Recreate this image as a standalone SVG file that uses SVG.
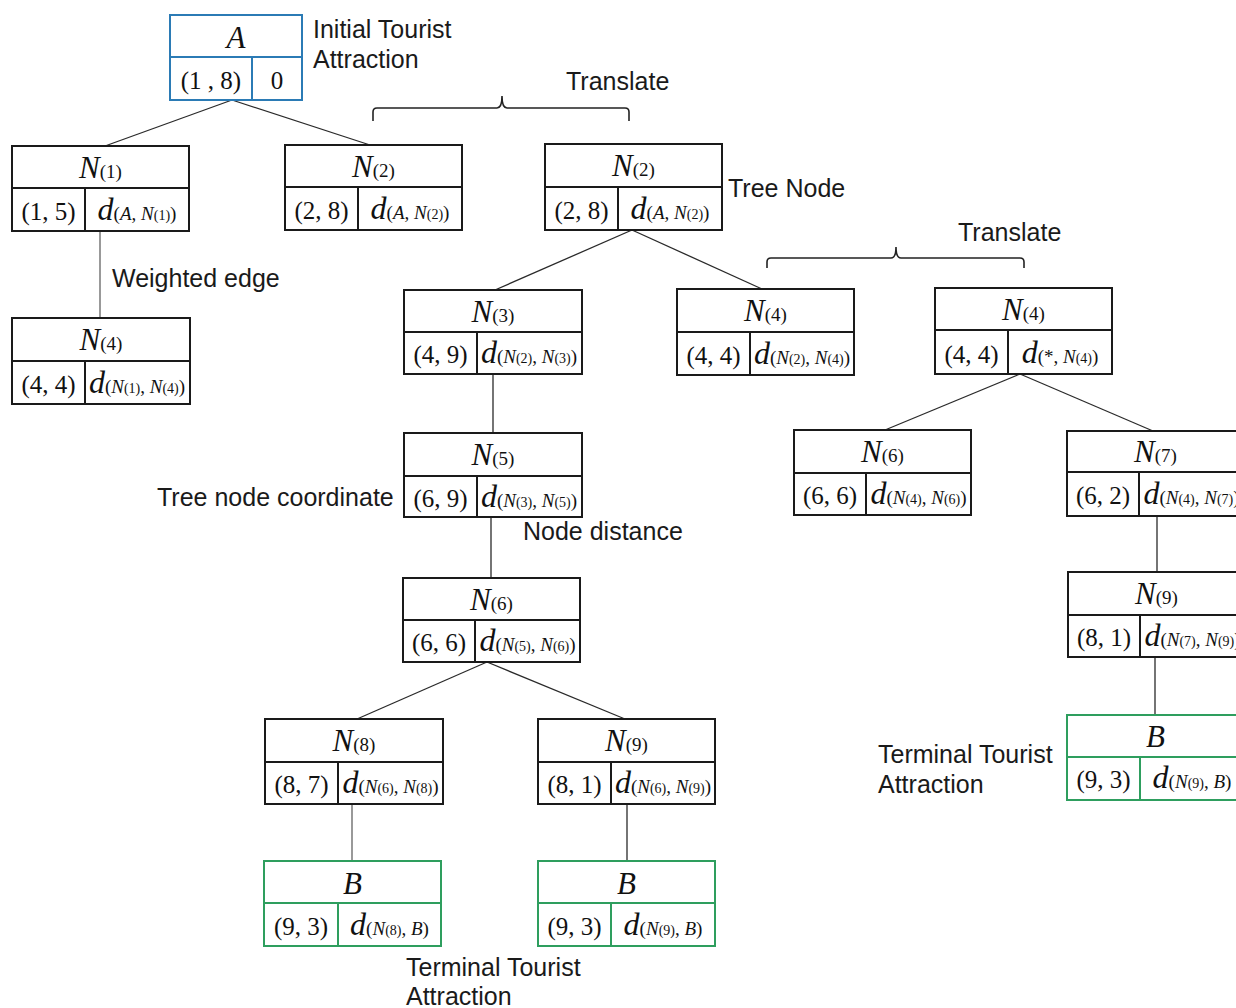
<svg xmlns="http://www.w3.org/2000/svg" width="1236" height="1008" viewBox="0 0 1236 1008">
<style>
.bg{fill:#ffffff}
.box{fill:#ffffff;stroke:#1a1a1a;stroke-width:2}
.blue{stroke:#2b7bb5}
.green{stroke:#2e9e5e}
.div{stroke:#1a1a1a;stroke-width:2}
.divb{stroke:#2b7bb5;stroke-width:2}
.divg{stroke:#2e9e5e;stroke-width:2}
.edge{stroke:#2a2a2a;stroke-width:1.3;fill:none}
.gray{stroke:#777777;stroke-width:1.5}
.brace{stroke:#222;stroke-width:1.6;fill:none}
.lbl{font-family:"Liberation Sans",Arial,sans-serif;font-size:25px;fill:#1a1a1a}
.t{font-family:"Liberation Serif","Times New Roman",serif;fill:#111}
.ttl{font-size:31px;text-anchor:middle}
.crd{font-size:25px;text-anchor:middle}
.dd{font-size:32px;text-anchor:middle}
.i{font-style:italic}
.s1{font-size:19px}
.s2{font-size:14px}
</style>
<rect class="bg" x="0" y="0" width="1236" height="1008"/>

<g id="connectors">
<line class="edge" x1="232" y1="100" x2="105" y2="146"/>
<line class="edge" x1="232" y1="100" x2="370" y2="145"/>
<line class="edge gray" x1="100" y1="231" x2="100" y2="318"/>
<line class="edge" x1="632" y1="230" x2="495" y2="290"/>
<line class="edge" x1="632" y1="230" x2="762" y2="289"/>
<line class="edge" x1="493" y1="374" x2="493" y2="433"/>
<line class="edge" x1="491" y1="517" x2="491" y2="578"/>
<line class="edge" x1="487" y1="662" x2="357" y2="719"/>
<line class="edge" x1="487" y1="662" x2="625" y2="719"/>
<line class="edge gray" x1="352" y1="804" x2="352" y2="861"/>
<line class="edge" x1="627" y1="804" x2="627" y2="861"/>
<line class="edge" x1="1020" y1="374" x2="885" y2="430"/>
<line class="edge" x1="1020" y1="374" x2="1153" y2="431"/>
<line class="edge" x1="1157" y1="516" x2="1157" y2="572"/>
<line class="edge" x1="1155" y1="657" x2="1155" y2="715"/>
<path class="brace" d="M373,121 V112 Q373,108 377,108 H497 Q502,108 502,96 Q502,108 507,108 H625 Q629,108 629,112 V121"/>
<path class="brace" d="M767,268 V262 Q767,258 771,258 H891 Q896,258 896,247 Q896,258 901,258 H1020 Q1024,258 1024,262 V268"/>
</g>

<g id="labels">
<text class="lbl" x="313" y="38">Initial Tourist</text>
<text class="lbl" x="313" y="68">Attraction</text>
<text class="lbl" x="566" y="90">Translate</text>
<text class="lbl" x="728" y="197">Tree Node</text>
<text class="lbl" x="958" y="241">Translate</text>
<text class="lbl" x="112" y="287">Weighted edge</text>
<text class="lbl" x="157" y="506">Tree node coordinate</text>
<text class="lbl" x="523" y="540">Node distance</text>
<text class="lbl" x="878" y="763">Terminal Tourist</text>
<text class="lbl" x="878" y="793">Attraction</text>
<text class="lbl" x="406" y="976">Terminal Tourist</text>
<text class="lbl" x="406" y="1005">Attraction</text>
</g>

<g id="nodeA" transform="translate(170,15)">
<rect class="box blue" x="0" y="0" width="132" height="85"/>
<line class="divb" x1="0" y1="42" x2="132" y2="42"/>
<line class="divb" x1="82" y1="42" x2="82" y2="85"/>
<text class="t ttl i" x="66" y="33">A</text>
<text class="t crd" x="41" y="74">(1 , 8)</text>
<text class="t crd" x="107" y="74">0</text>
</g>

<g id="nodeN1" transform="translate(12,146)">
<rect class="box" x="0" y="0" width="177" height="85"/>
<line class="div" x1="0" y1="42" x2="177" y2="42"/>
<line class="div" x1="73" y1="42" x2="73" y2="85"/>
<text class="t ttl" x="88.5" y="32"><tspan class="i">N</tspan><tspan class="s1">(1)</tspan></text>
<text class="t crd" x="36.5" y="74">(1, 5)</text>
<text class="t dd" x="125" y="74"><tspan class="i">d</tspan><tspan class="s1">(<tspan class="i">A</tspan>, <tspan class="i">N</tspan><tspan class="s2">(1)</tspan>)</tspan></text>
</g>

<g id="nodeN2a" transform="translate(285,145)">
<rect class="box" x="0" y="0" width="177" height="85"/>
<line class="div" x1="0" y1="42" x2="177" y2="42"/>
<line class="div" x1="73" y1="42" x2="73" y2="85"/>
<text class="t ttl" x="88.5" y="32"><tspan class="i">N</tspan><tspan class="s1">(2)</tspan></text>
<text class="t crd" x="36.5" y="74">(2, 8)</text>
<text class="t dd" x="125" y="74"><tspan class="i">d</tspan><tspan class="s1">(<tspan class="i">A</tspan>, <tspan class="i">N</tspan><tspan class="s2">(2)</tspan>)</tspan></text>
</g>

<g id="nodeN2b" transform="translate(545,144)">
<rect class="box" x="0" y="0" width="177" height="86"/>
<line class="div" x1="0" y1="43" x2="177" y2="43"/>
<line class="div" x1="73" y1="43" x2="73" y2="86"/>
<text class="t ttl" x="88.5" y="32"><tspan class="i">N</tspan><tspan class="s1">(2)</tspan></text>
<text class="t crd" x="36.5" y="75">(2, 8)</text>
<text class="t dd" x="125" y="75"><tspan class="i">d</tspan><tspan class="s1">(<tspan class="i">A</tspan>, <tspan class="i">N</tspan><tspan class="s2">(2)</tspan>)</tspan></text>
</g>

<g id="nodeN4a" transform="translate(12,318)">
<rect class="box" x="0" y="0" width="178" height="86"/>
<line class="div" x1="0" y1="43" x2="178" y2="43"/>
<line class="div" x1="73" y1="43" x2="73" y2="86"/>
<text class="t ttl" x="89" y="32"><tspan class="i">N</tspan><tspan class="s1">(4)</tspan></text>
<text class="t crd" x="36.5" y="75">(4, 4)</text>
<text class="t dd" x="125" y="75"><tspan class="i">d</tspan><tspan class="s1">(<tspan class="i">N</tspan><tspan class="s2">(1)</tspan>, <tspan class="i">N</tspan><tspan class="s2">(4)</tspan>)</tspan></text>
</g>

<g id="nodeN3" transform="translate(404,290)">
<rect class="box" x="0" y="0" width="178" height="84"/>
<line class="div" x1="0" y1="42" x2="178" y2="42"/>
<line class="div" x1="73" y1="42" x2="73" y2="84"/>
<text class="t ttl" x="89" y="32"><tspan class="i">N</tspan><tspan class="s1">(3)</tspan></text>
<text class="t crd" x="36.5" y="73">(4, 9)</text>
<text class="t dd" x="125" y="73"><tspan class="i">d</tspan><tspan class="s1">(<tspan class="i">N</tspan><tspan class="s2">(2)</tspan>, <tspan class="i">N</tspan><tspan class="s2">(3)</tspan>)</tspan></text>
</g>

<g id="nodeN4b" transform="translate(677,289)">
<rect class="box" x="0" y="0" width="177" height="86"/>
<line class="div" x1="0" y1="43" x2="177" y2="43"/>
<line class="div" x1="73" y1="43" x2="73" y2="86"/>
<text class="t ttl" x="88.5" y="32"><tspan class="i">N</tspan><tspan class="s1">(4)</tspan></text>
<text class="t crd" x="36.5" y="75">(4, 4)</text>
<text class="t dd" x="125" y="75"><tspan class="i">d</tspan><tspan class="s1">(<tspan class="i">N</tspan><tspan class="s2">(2)</tspan>, <tspan class="i">N</tspan><tspan class="s2">(4)</tspan>)</tspan></text>
</g>

<g id="nodeN4c" transform="translate(935,288)">
<rect class="box" x="0" y="0" width="177" height="86"/>
<line class="div" x1="0" y1="42" x2="177" y2="42"/>
<line class="div" x1="73" y1="42" x2="73" y2="86"/>
<text class="t ttl" x="88.5" y="32"><tspan class="i">N</tspan><tspan class="s1">(4)</tspan></text>
<text class="t crd" x="36.5" y="75">(4, 4)</text>
<text class="t dd" x="125" y="75"><tspan class="i">d</tspan><tspan class="s1">(*, <tspan class="i">N</tspan><tspan class="s2">(4)</tspan>)</tspan></text>
</g>

<g id="nodeN5" transform="translate(404,433)">
<rect class="box" x="0" y="0" width="178" height="84"/>
<line class="div" x1="0" y1="43" x2="178" y2="43"/>
<line class="div" x1="73" y1="43" x2="73" y2="84"/>
<text class="t ttl" x="89" y="32"><tspan class="i">N</tspan><tspan class="s1">(5)</tspan></text>
<text class="t crd" x="36.5" y="74">(6, 9)</text>
<text class="t dd" x="125" y="74"><tspan class="i">d</tspan><tspan class="s1">(<tspan class="i">N</tspan><tspan class="s2">(3)</tspan>, <tspan class="i">N</tspan><tspan class="s2">(5)</tspan>)</tspan></text>
</g>

<g id="nodeN6a" transform="translate(403,578)">
<rect class="box" x="0" y="0" width="177" height="84"/>
<line class="div" x1="0" y1="42" x2="177" y2="42"/>
<line class="div" x1="72" y1="42" x2="72" y2="84"/>
<text class="t ttl" x="88.5" y="32"><tspan class="i">N</tspan><tspan class="s1">(6)</tspan></text>
<text class="t crd" x="36" y="73">(6, 6)</text>
<text class="t dd" x="124.5" y="73"><tspan class="i">d</tspan><tspan class="s1">(<tspan class="i">N</tspan><tspan class="s2">(5)</tspan>, <tspan class="i">N</tspan><tspan class="s2">(6)</tspan>)</tspan></text>
</g>

<g id="nodeN6b" transform="translate(794,430)">
<rect class="box" x="0" y="0" width="177" height="85"/>
<line class="div" x1="0" y1="43" x2="177" y2="43"/>
<line class="div" x1="72" y1="43" x2="72" y2="85"/>
<text class="t ttl" x="88.5" y="32"><tspan class="i">N</tspan><tspan class="s1">(6)</tspan></text>
<text class="t crd" x="36" y="74">(6, 6)</text>
<text class="t dd" x="124.5" y="74"><tspan class="i">d</tspan><tspan class="s1">(<tspan class="i">N</tspan><tspan class="s2">(4)</tspan>, <tspan class="i">N</tspan><tspan class="s2">(6)</tspan>)</tspan></text>
</g>

<g id="nodeN7" transform="translate(1067,431)">
<rect class="box" x="0" y="0" width="177" height="85"/>
<line class="div" x1="0" y1="41" x2="177" y2="41"/>
<line class="div" x1="72" y1="41" x2="72" y2="85"/>
<text class="t ttl" x="88.5" y="31"><tspan class="i">N</tspan><tspan class="s1">(7)</tspan></text>
<text class="t crd" x="36" y="73">(6, 2)</text>
<text class="t dd" x="124.5" y="73"><tspan class="i">d</tspan><tspan class="s1">(<tspan class="i">N</tspan><tspan class="s2">(4)</tspan>, <tspan class="i">N</tspan><tspan class="s2">(7)</tspan>)</tspan></text>
</g>

<g id="nodeN9b" transform="translate(1068,572)">
<rect class="box" x="0" y="0" width="177" height="85"/>
<line class="div" x1="0" y1="43" x2="177" y2="43"/>
<line class="div" x1="72" y1="43" x2="72" y2="85"/>
<text class="t ttl" x="88.5" y="32"><tspan class="i">N</tspan><tspan class="s1">(9)</tspan></text>
<text class="t crd" x="36" y="74">(8, 1)</text>
<text class="t dd" x="124.5" y="74"><tspan class="i">d</tspan><tspan class="s1">(<tspan class="i">N</tspan><tspan class="s2">(7)</tspan>, <tspan class="i">N</tspan><tspan class="s2">(9)</tspan>)</tspan></text>
</g>

<g id="nodeBb" transform="translate(1067,715)">
<rect class="box green" x="0" y="0" width="177" height="85"/>
<line class="divg" x1="0" y1="42" x2="177" y2="42"/>
<line class="divg" x1="73" y1="42" x2="73" y2="85"/>
<text class="t ttl i" x="88.5" y="32">B</text>
<text class="t crd" x="36.5" y="73">(9, 3)</text>
<text class="t dd" x="125" y="73"><tspan class="i">d</tspan><tspan class="s1">(<tspan class="i">N</tspan><tspan class="s2">(9)</tspan>, <tspan class="i">B</tspan>)</tspan></text>
</g>

<g id="nodeN8" transform="translate(265,719)">
<rect class="box" x="0" y="0" width="178" height="85"/>
<line class="div" x1="0" y1="43" x2="178" y2="43"/>
<line class="div" x1="73" y1="43" x2="73" y2="85"/>
<text class="t ttl" x="89" y="32"><tspan class="i">N</tspan><tspan class="s1">(8)</tspan></text>
<text class="t crd" x="36.5" y="74">(8, 7)</text>
<text class="t dd" x="125.5" y="74"><tspan class="i">d</tspan><tspan class="s1">(<tspan class="i">N</tspan><tspan class="s2">(6)</tspan>, <tspan class="i">N</tspan><tspan class="s2">(8)</tspan>)</tspan></text>
</g>

<g id="nodeN9a" transform="translate(538,719)">
<rect class="box" x="0" y="0" width="177" height="85"/>
<line class="div" x1="0" y1="43" x2="177" y2="43"/>
<line class="div" x1="73" y1="43" x2="73" y2="85"/>
<text class="t ttl" x="88.5" y="32"><tspan class="i">N</tspan><tspan class="s1">(9)</tspan></text>
<text class="t crd" x="36.5" y="74">(8, 1)</text>
<text class="t dd" x="125" y="74"><tspan class="i">d</tspan><tspan class="s1">(<tspan class="i">N</tspan><tspan class="s2">(6)</tspan>, <tspan class="i">N</tspan><tspan class="s2">(9)</tspan>)</tspan></text>
</g>

<g id="nodeBa" transform="translate(264,861)">
<rect class="box green" x="0" y="0" width="177" height="85"/>
<line class="divg" x1="0" y1="42" x2="177" y2="42"/>
<line class="divg" x1="74" y1="42" x2="74" y2="85"/>
<text class="t ttl i" x="88.5" y="33">B</text>
<text class="t crd" x="37" y="74">(9, 3)</text>
<text class="t dd" x="125.5" y="74"><tspan class="i">d</tspan><tspan class="s1">(<tspan class="i">N</tspan><tspan class="s2">(8)</tspan>, <tspan class="i">B</tspan>)</tspan></text>
</g>

<g id="nodeBm" transform="translate(538,861)">
<rect class="box green" x="0" y="0" width="177" height="85"/>
<line class="divg" x1="0" y1="42" x2="177" y2="42"/>
<line class="divg" x1="73" y1="42" x2="73" y2="85"/>
<text class="t ttl i" x="88.5" y="33">B</text>
<text class="t crd" x="36.5" y="74">(9, 3)</text>
<text class="t dd" x="125" y="74"><tspan class="i">d</tspan><tspan class="s1">(<tspan class="i">N</tspan><tspan class="s2">(9)</tspan>, <tspan class="i">B</tspan>)</tspan></text>
</g>
</svg>
